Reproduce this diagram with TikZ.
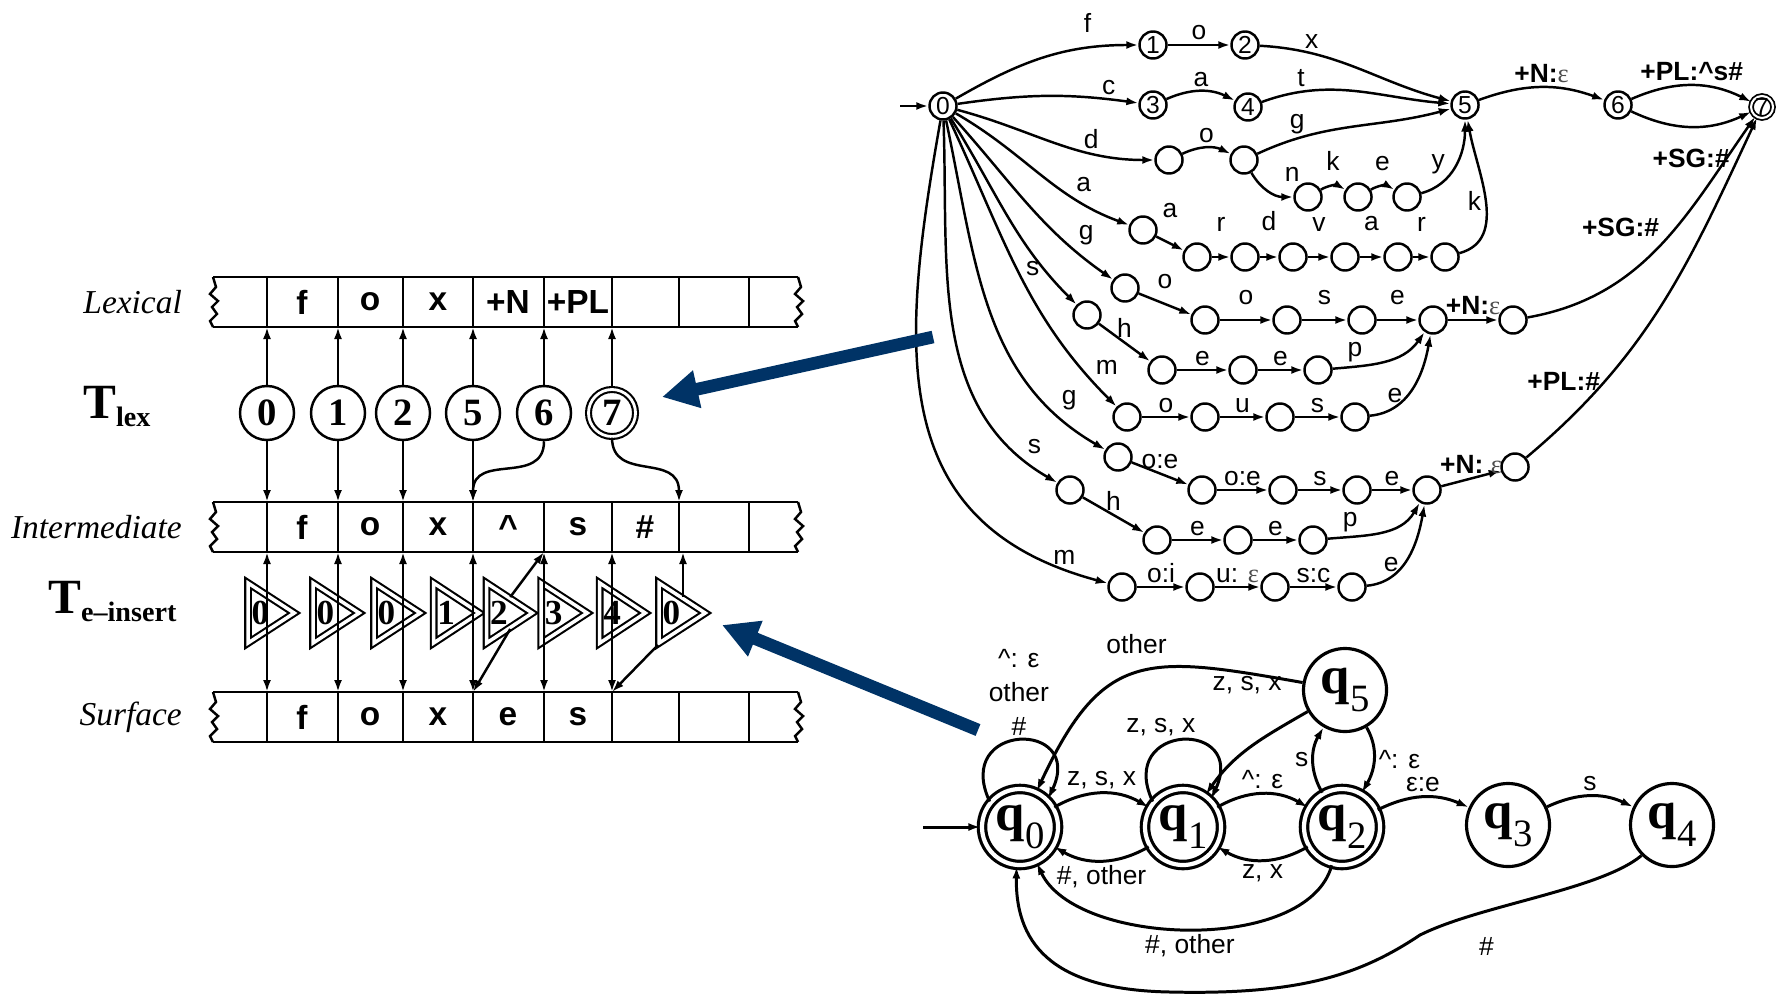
\documentclass[tikz,border=0pt]{standalone}
\usepackage{fontspec}
\setmainfont{Liberation Serif}
\setsansfont{Liberation Sans}
\usetikzlibrary{arrows.meta,shapes.geometric}
\definecolor{navy}{RGB}{0,51,102}
\newcommand{\epsr}{{\rmfamily\mdseries\color{black!70}ε}}
\newcommand{\qlab}[1]{{\bfseries\fontsize{15}{15}\selectfont q}\raisebox{-5pt}{\fontsize{11}{11}\selectfont #1}}
\newcommand{\Tlab}[1]{{\bfseries\fontsize{14}{14}\selectfont T\raisebox{-2.5pt}{\fontsize{8}{8}\selectfont #1}}}

\begin{document}
\begin{tikzpicture}[x=0.01cm,y=0.01cm,>={Latex[length=1.2mm,width=0.8mm]},line width=0.7pt,
    st/.style={circle,draw,line width=0.7pt,minimum size=0.27cm,inner sep=0pt,font=\sffamily\fontsize{7}{7}\selectfont},
    acc/.style={st,double,double distance=0.6pt,line width=0.5pt,minimum size=0.22cm},
    lbl/.style={font=\sffamily\fontsize{7.5}{8}\selectfont,inner sep=1pt},
    tag/.style={font=\sffamily\bfseries\fontsize{7.5}{8}\selectfont,inner sep=1pt},
    cell/.style={font=\sffamily\bfseries\fontsize{9.5}{10}\selectfont},
    tape name/.style={anchor=east,inner sep=0pt,font=\itshape\fontsize{9.5}{10}\selectfont},
    lexst/.style={circle,draw,line width=0.7pt,minimum size=0.54cm,inner sep=0pt,font=\bfseries\fontsize{11}{11}\selectfont},
    tri/.style={isosceles triangle,isosceles triangle stretches,draw,double,double distance=1pt,line width=0.6pt,
        minimum width=0.6cm,minimum height=0.44cm,inner sep=0pt,anchor=apex,font=\bfseries\fontsize{10}{10}\selectfont},
    qst/.style={circle,draw,line width=0.9pt,minimum size=0.83cm,inner sep=0pt},
    qacc/.style={qst,double,double distance=1.2pt,minimum size=0.76cm},
    qlbl/.style={font=\sffamily\fontsize{7.5}{9.6}\selectfont,inner sep=1pt,align=center},
    big arrow/.style={navy,line width=3.6pt,-{Triangle[length=3.6mm,width=3.6mm]}},
    tear/.pic={\draw[line width=0.7pt] (0,0) -- (3,-10) -- (-3,-17) -- (5,-24) -- (-1,-30) -- (4,-37) -- (-3,-44) -- (0,-50);}]
\useasboundingbox (0,0) rectangle (1777,-994);

% tapes
\foreach \x [count=\i] in {267,338,403,473,544,612,679,749}
    \coordinate (d\i) at (\x,0);
\coordinate (lexB) at (0,-327);
\coordinate (intT) at (0,-502);
\coordinate (intB) at (0,-552);
\coordinate (surT) at (0,-692);
\foreach \ya/\yb in {277/327,502/552,692/742} {
    \draw (213,-\ya) -- (798,-\ya) (213,-\yb) -- (798,-\yb);
    \foreach \i in {1,...,8}
        \draw (d\i |- 0,-\ya) -- (d\i |- 0,-\yb);
    \pic at (213,-\ya) {tear};
    \pic at (798,-\ya) {tear};
}
\foreach \x/\t [count=\i] in {302/f,370/o,438/x,508/+N,578/+PL}
    \node[cell] (lex\i) at (\x,-302) {\t};
\foreach \x/\t [count=\i] in {302/f,370/o,438/x,508/\textasciicircum,578/s,645/\#}
    \node[cell] (int\i) at (\x,-527) {\t};
\foreach \x/\t [count=\i] in {302/f,370/o,438/x,508/e,578/s}
    \node[cell] (sur\i) at (\x,-717) {\t};
\node[tape name] (lexname) at (183,-302) {Lexical};
\node[tape name] (intname) at (183,-527) {Intermediate};
\node[tape name] (surname) at (183,-717) {Surface};
\node[anchor=base west,inner sep=0pt] (Tlex) at (82,-418) {\Tlab{lex}};
\node[anchor=base west,inner sep=0pt] (Tins) at (47,-613) {\Tlab{e--insert}};

% T_lex
\foreach \i/\n in {1/0,2/1,3/2,4/5,5/6}
    \node[lexst] (c\n) at (d\i |- 0,-413) {\n};
\node[lexst,double,double distance=0.8pt,line width=0.6pt,minimum size=0.47cm] (c7) at (d6 |- 0,-413) {7};
\foreach \n in {0,1,2,5,6,7}
    \draw[->] (c\n) -- (c\n |- lexB);
\foreach \n in {0,1,2,5}
    \draw[->] (c\n) -- (c\n |- intT);
\draw[->] (c6.south) .. controls +(0,-45) and +(0,50) .. (d4 |- intT);
\draw[->] (c7.south) .. controls +(0,-45) and +(0,50) .. (d7 |- intT);

% T_e-insert
\foreach \x/\n [count=\i from 0] in {297/0,362/0,423/0,482/1,535/2,590/3,648/4,708/0}
    \node[tri] (t\i) at (\x,-613) {\n};
\foreach \i in {1,...,6}
    \draw[<->] (d\i |- intB) -- (d\i |- surT);
\draw[->] (t7.left side) -- (t7.left side |- intB);
\draw[->] (t4.left side) -- (d5 |- intB);
\draw[->] (t4.right side) -- (d4 |- surT);
\draw[->] (t7.right corner) -- (d6 |- surT);

% lexicon
\node[st] (n0) at (943,-106) {0};
\node[st] (n1) at (1153,-45) {1};
\node[st] (n2) at (1245,-45) {2};
\node[st] (n3) at (1153,-105) {3};
\node[st] (n4) at (1248,-107) {4};
\node[st] (n5) at (1465,-105) {5};
\node[st] (n6) at (1618,-105) {6};
\node[acc] (n7) at (1762,-107) {7};
\foreach \nm/\x/\y in {d1/1169/160,d2/1244/160,k1/1308/197,k2/1358/197,k3/1407/197,
    a1/1143/230,a2/1197/257,a3/1245/257,a4/1293/257,a5/1345/257,a6/1398/257,a7/1445/257,
    go1/1125/288,go2/1205/320,go3/1287/320,go4/1362/320,go5/1433/320,go6/1513/320,
    sh1/1087/315,sh2/1162/370,sh3/1243/370,sh4/1318/370,
    mo1/1127/417,mo2/1205/417,mo3/1280/417,mo4/1355/417,
    ge1/1118/457,ge2/1202/490,ge3/1283/490,ge4/1357/490,ge5/1427/490,ge6/1515/467,
    sq1/1070/490,sq2/1157/540,sq3/1238/540,sq4/1313/540,
    mi1/1122/587,mi2/1200/587,mi3/1275/587,mi4/1352/587}
    \node[st] (\nm) at (\x,-\y) {};
\coordinate (lexin) at (900,-106);
\draw[->] (lexin) -- (n0);
\draw[->] (n0) to[out=30,in=180] node[lbl,pos=.75,above=3pt] {f} (n1);
\draw[->] (n0) to[bend left=8] node[lbl,pos=.85,above] {c} (n3);
\draw[->] (n3) to[bend left=25] node[lbl,above] {a} (n4);
\draw[->] (n2) to[out=-3,in=165] node[lbl,pos=.25,above] {x} (n5);
\draw[->] (n4) to[out=20,in=175] node[lbl,pos=.2,above] {t} (n5);
\draw[->] (n0) to[out=-15,in=180] node[lbl,pos=.7,above] {d} (d1);
\draw[->] (d1) to[bend left=25] node[lbl,above] {o} (d2);
\draw[->] (d2) to[out=25,in=195] node[lbl,pos=.2,above] {g} (n5);
\draw[->] (d2) to[out=-60,in=180] node[lbl,pos=.6,above right=2pt] {n} (k1);
\draw[->] (k1) to[bend left=30] node[lbl,above=3pt] {k} (k2);
\draw[->] (k2) to[bend left=30] node[lbl,above=3pt] {e} (k3);
\draw[->] (k3) to[out=15,in=-90] node[lbl,pos=.2,above=2pt] {y} (n5);
\draw[->] (n0) to[out=-30,in=160] node[lbl,pos=.7,above right] {a} (a1);
\draw[->] (a7) to[out=15,in=-80] node[lbl,left] {k} (n5);
\draw[->] (n0) to[out=-48,in=145] node[lbl,pos=.8,above right] {g} (go1);
\draw[->] (n0) to[out=-58,in=135] node[lbl,pos=.8,left] {s} (sh1);
\draw[->] (n0) to[out=-65,in=135] node[lbl,pos=.9,above right] {m} (mo1);
\draw[->] (n0) to[out=-78,in=150] node[lbl,pos=.85,above right] {g} (ge1);
\draw[->] (n0) to[out=-88,in=150] node[lbl,pos=.9,above right] {s} (sq1);
\draw[->] (n0) to[out=-100,in=165,looseness=1.2] node[lbl,pos=.93,above] {m} (mi1);
\foreach \a/\b/\l in {a1/a2/a,a2/a3/r,a3/a4/d,a4/a5/v,a5/a6/a,a6/a7/r}
    \draw[->] (\a) -- node[lbl,above=6pt] {\l} (\b);
\foreach \a/\b/\l in {go1/go2/o,go2/go3/o,go3/go4/s,go4/go5/e}
    \draw[->] (\a) -- node[lbl,above=3pt] {\l} (\b);
\foreach \a/\b/\l in {n1/n2/o,sh1/sh2/h,sh2/sh3/e,sh3/sh4/e,
    mo1/mo2/o,mo2/mo3/u,mo3/mo4/s,ge1/ge2/o:e,ge2/ge3/o:e,ge3/ge4/s,ge4/ge5/e,
    sq1/sq2/h,sq2/sq3/e,sq3/sq4/e,mi1/mi2/o:i,mi2/mi3/u: \epsr,mi3/mi4/s:c}
    \draw[->] (\a) -- node[lbl,above] {\l} (\b);
\draw[->] (sh4) to[out=5,in=-125] node[lbl,pos=.2,above] {p} (go5);
\draw[->] (mo4) to[out=5,in=-100] node[lbl,pos=.25,above] {e} (go5);
\draw[->] (sq4) to[out=5,in=-120] node[lbl,pos=.2,above] {p} (ge5);
\draw[->] (mi4) to[out=5,in=-100] node[lbl,pos=.25,above] {e} (ge5);
\draw[->] (n5) to[bend left=20] node[tag,above] {+N:\epsr} (n6);
\draw[->] (n6) to[bend left=25] node[tag,above] {+PL:\textasciicircum s\#} (n7);
\draw[->] (n6) to[bend right=25] node[tag,below=5pt] {+SG:\#} (n7);
\draw[->] (go5) -- node[tag,above] {+N:\epsr} (go6);
\draw[->] (go6) to[out=10,in=235] node[tag,pos=.52,above left] {+SG:\#} (n7);
\draw[->] (ge5) -- node[tag,above] {+N: \epsr} (ge6);
\draw[->] (ge6) to[out=40,in=-115] node[tag,pos=.25,left] {+PL:\#} (n7);

% e-insertion
\begin{scope}[line width=0.85pt]
\node[qacc] (q0) at (1020,-827) {\qlab{0}};
\node[qacc] (q1) at (1183,-827) {\qlab{1}};
\node[qacc] (q2) at (1342,-827) {\qlab{2}};
\node[qst] (q3) at (1508,-825) {\qlab{3}};
\node[qst] (q4) at (1672,-825) {\qlab{4}};
\node[qst] (q5) at (1345,-690) {\qlab{5}};
\coordinate (qin) at (923,-827);
\draw[->] (qin) -- (q0);
\draw[->] (q0.140) .. controls +(115:88) and +(65:88) .. node[qlbl,above] {\textasciicircum: ε\\other\\\#} (q0.45);
\draw[->] (q1.140) .. controls +(115:88) and +(65:88) .. node[qlbl,above,xshift=-6pt] {z, s, x} (q1.45);
\draw[->] (q0) to[bend left=30] node[qlbl,above] {z, s, x} (q1);
\draw[->] (q1) to[bend left=30] node[qlbl,below] {\#, other} (q0);
\draw[->] (q1) to[bend left=30] node[qlbl,above] {\textasciicircum: ε} (q2);
\draw[->] (q2) to[bend left=30] node[qlbl,below] {z, x} (q1);
\draw[->] (q5) to[out=170,in=65,looseness=1.4] node[qlbl,above=4pt] {other} (q0);
\draw[->] (q5) to[out=210,in=55] node[qlbl,at start,anchor=south east,xshift=-6pt,yshift=3.5pt] {z, s, x} (q1);
\draw[->] (q2) to[out=120,in=-120] node[qlbl,left] {s} (q5);
\draw[->] (q5) to[out=-60,in=60] node[qlbl,right] {\textasciicircum: ε} (q2);
\draw[->] (q2) to[bend left=25] node[qlbl,above] {ε:e} (q3);
\draw[->] (q3) to[bend left=25] node[qlbl,above] {s} (q4);
\draw[->] (q2) to[out=-105,in=-65,looseness=0.8] node[qlbl,below] {\#, other} (q0);
\draw[->] (q4.225) .. controls (1600,-890) and (1480,-905) .. node[qlbl,pos=.7,below=6pt] {\#} (1420,-935)
    .. controls (1360,-975) and (1300,-995) .. (1170,-992)
    .. controls (1060,-990) and (1015,-950) .. (q0.265);
\end{scope}

% blue arrows
\coordinate (lexsrc) at (933,-337);
\coordinate (lextgt) at (662,-397);
\coordinate (inssrc) at (978,-730);
\coordinate (instgt) at (722,-625);
\draw[big arrow] (lexsrc) -- (lextgt);
\draw[big arrow] (inssrc) -- (instgt);
\end{tikzpicture}
\end{document}
